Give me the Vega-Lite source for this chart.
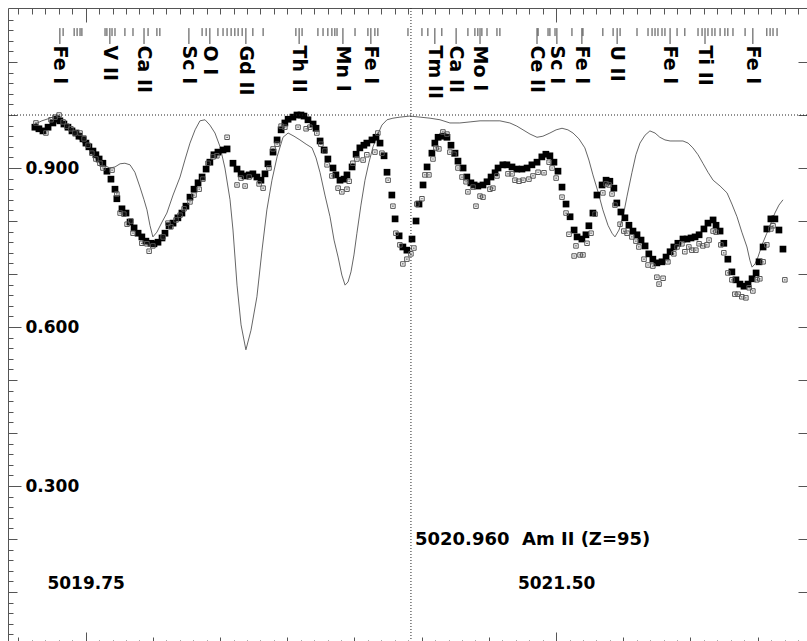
{
"$schema": "https://vega.github.io/schema/vega-lite/v6.json",
"width": 799, "height": 635,
"autosize": {"type": "none"},
"padding": {"left": 8, "top": 8, "right": 0, "bottom": 0},
"background": "white",
"config": {"view": {"stroke": null},
 "axis": {"grid": false, "title": null, "domainColor": "#555", "tickColor": "#555", "domainWidth": 1, "tickWidth": 1,
  "labelFont": "DejaVu Sans", "labelFontWeight": "bold", "labelFontSize": 17, "labelColor": "black",
  "labelOverlap": false, "labelFlush": false, "labelBound": false}},
"datasets": {
"synth": [
{"w":5019.554,"f":0.981},{"w":5019.587,"f":0.989},{"w":5019.617,"f":0.994},{"w":5019.647,"f":1.0},{"w":5019.680,"f":0.977},{"w":5019.710,"f":0.962},{"w":5019.740,"f":0.947},{"w":5019.773,"f":0.928},{"w":5019.803,"f":0.909},{"w":5019.840,"f":0.900},{"w":5019.859,"f":0.902},{"w":5019.878,"f":0.908},{"w":5019.896,"f":0.909},{"w":5019.915,"f":0.906},{"w":5019.933,"f":0.892},{"w":5019.952,"f":0.864},{"w":5019.967,"f":0.840},{"w":5019.978,"f":0.821},{"w":5019.989,"f":0.792},{"w":5020.000,"f":0.770},{"w":5020.015,"f":0.779},{"w":5020.034,"f":0.798},{"w":5020.052,"f":0.815},{"w":5020.075,"f":0.849},{"w":5020.101,"f":0.883},{"w":5020.119,"f":0.915},{"w":5020.138,"f":0.947},{"w":5020.157,"f":0.972},{"w":5020.175,"f":0.989},{"w":5020.194,"f":0.991},{"w":5020.212,"f":0.981},{"w":5020.231,"f":0.966},{"w":5020.250,"f":0.940},{"w":5020.268,"f":0.900},{"w":5020.287,"f":0.840},{"w":5020.298,"f":0.783},{"w":5020.313,"f":0.679},{"w":5020.328,"f":0.604},{"w":5020.346,"f":0.557},{"w":5020.365,"f":0.594},{"w":5020.387,"f":0.657},{"w":5020.406,"f":0.745},{"w":5020.424,"f":0.821},{"w":5020.443,"f":0.877},{"w":5020.462,"f":0.921},{"w":5020.484,"f":0.958},{"w":5020.503,"f":0.966},{"w":5020.525,"f":0.960},{"w":5020.547,"f":0.953},{"w":5020.570,"f":0.945},{"w":5020.592,"f":0.938},{"w":5020.607,"f":0.919},{"w":5020.622,"f":0.891},{"w":5020.640,"f":0.849},{"w":5020.659,"f":0.808},{"w":5020.674,"f":0.764},{"w":5020.689,"f":0.732},{"w":5020.703,"f":0.698},{"w":5020.715,"f":0.679},{"w":5020.726,"f":0.685},{"w":5020.737,"f":0.704},{"w":5020.748,"f":0.736},{"w":5020.759,"f":0.777},{"w":5020.774,"f":0.830},{"w":5020.789,"f":0.877},{"w":5020.804,"f":0.911},{"w":5020.819,"f":0.940},{"w":5020.837,"f":0.964},{"w":5020.852,"f":0.981},{"w":5020.871,"f":0.991},{"w":5020.893,"f":0.994},{"w":5020.919,"f":0.996},{"w":5020.956,"f":0.998},{"w":5020.994,"f":0.996},{"w":5021.031,"f":0.994},{"w":5021.068,"f":0.991},{"w":5021.105,"f":0.985},{"w":5021.142,"f":0.985},{"w":5021.180,"f":0.987},{"w":5021.217,"f":0.989},{"w":5021.254,"f":0.989},{"w":5021.291,"f":0.989},{"w":5021.328,"f":0.985},{"w":5021.354,"f":0.979},{"w":5021.377,"f":0.972},{"w":5021.403,"f":0.964},{"w":5021.429,"f":0.958},{"w":5021.451,"f":0.960},{"w":5021.477,"f":0.966},{"w":5021.500,"f":0.972},{"w":5021.522,"f":0.975},{"w":5021.544,"f":0.972},{"w":5021.563,"f":0.966},{"w":5021.585,"f":0.955},{"w":5021.607,"f":0.938},{"w":5021.622,"f":0.915},{"w":5021.637,"f":0.887},{"w":5021.656,"f":0.855},{"w":5021.674,"f":0.821},{"w":5021.693,"f":0.792},{"w":5021.708,"f":0.777},{"w":5021.719,"f":0.770},{"w":5021.734,"f":0.783},{"w":5021.749,"f":0.808},{"w":5021.764,"f":0.847},{"w":5021.782,"f":0.891},{"w":5021.797,"f":0.925},{"w":5021.812,"f":0.947},{"w":5021.831,"f":0.962},{"w":5021.849,"f":0.970},{"w":5021.868,"f":0.966},{"w":5021.886,"f":0.958},{"w":5021.905,"f":0.953},{"w":5021.924,"f":0.951},{"w":5021.946,"f":0.951},{"w":5021.972,"f":0.951},{"w":5021.991,"f":0.947},{"w":5022.009,"f":0.938},{"w":5022.028,"f":0.925},{"w":5022.046,"f":0.909},{"w":5022.065,"f":0.892},{"w":5022.084,"f":0.877},{"w":5022.110,"f":0.866},{"w":5022.136,"f":0.853},{"w":5022.154,"f":0.832},{"w":5022.173,"f":0.808},{"w":5022.191,"f":0.779},{"w":5022.210,"f":0.751},{"w":5022.221,"f":0.726},{"w":5022.229,"f":0.713},{"w":5022.240,"f":0.719},{"w":5022.251,"f":0.732},{"w":5022.266,"f":0.755},{"w":5022.284,"f":0.777},{"w":5022.299,"f":0.796},{"w":5022.314,"f":0.815},{"w":5022.329,"f":0.830},{"w":5022.344,"f":0.840}
],
"filled": [
{"w":5019.561,"f":0.977},{"w":5019.576,"f":0.974},{"w":5019.591,"f":0.970},{"w":5019.610,"f":0.977},{"w":5019.628,"f":0.985},{"w":5019.643,"f":0.992},{"w":5019.654,"f":0.989},{"w":5019.669,"f":0.983},{"w":5019.684,"f":0.977},{"w":5019.699,"f":0.970},{"w":5019.714,"f":0.966},{"w":5019.725,"f":0.960},{"w":5019.740,"f":0.955},{"w":5019.751,"f":0.947},{"w":5019.762,"f":0.940},{"w":5019.777,"f":0.932},{"w":5019.788,"f":0.925},{"w":5019.800,"f":0.917},{"w":5019.814,"f":0.909},{"w":5019.829,"f":0.894},{"w":5019.844,"f":0.879},{"w":5019.859,"f":0.860},{"w":5019.866,"f":0.842},{"w":5019.885,"f":0.823},{"w":5019.900,"f":0.815},{"w":5019.915,"f":0.798},{"w":5019.930,"f":0.787},{"w":5019.945,"f":0.777},{"w":5019.959,"f":0.770},{"w":5019.974,"f":0.762},{"w":5019.993,"f":0.758},{"w":5020.004,"f":0.757},{"w":5020.019,"f":0.760},{"w":5020.034,"f":0.768},{"w":5020.045,"f":0.777},{"w":5020.060,"f":0.791},{"w":5020.075,"f":0.796},{"w":5020.093,"f":0.806},{"w":5020.108,"f":0.815},{"w":5020.123,"f":0.828},{"w":5020.138,"f":0.845},{"w":5020.153,"f":0.860},{"w":5020.168,"f":0.872},{"w":5020.183,"f":0.883},{"w":5020.198,"f":0.898},{"w":5020.212,"f":0.911},{"w":5020.227,"f":0.925},{"w":5020.242,"f":0.930},{"w":5020.261,"f":0.934},{"w":5020.276,"f":0.936},{"w":5020.298,"f":0.909},{"w":5020.313,"f":0.898},{"w":5020.328,"f":0.889},{"w":5020.343,"f":0.885},{"w":5020.358,"f":0.887},{"w":5020.372,"f":0.889},{"w":5020.387,"f":0.883},{"w":5020.402,"f":0.877},{"w":5020.417,"f":0.889},{"w":5020.428,"f":0.908},{"w":5020.447,"f":0.930},{"w":5020.462,"f":0.953},{"w":5020.477,"f":0.972},{"w":5020.491,"f":0.985},{"w":5020.503,"f":0.992},{"w":5020.521,"f":0.996},{"w":5020.536,"f":1.0},{"w":5020.551,"f":1.0},{"w":5020.562,"f":0.998},{"w":5020.577,"f":0.991},{"w":5020.596,"f":0.983},{"w":5020.607,"f":0.975},{"w":5020.622,"f":0.951},{"w":5020.637,"f":0.934},{"w":5020.651,"f":0.917},{"w":5020.670,"f":0.900},{"w":5020.681,"f":0.887},{"w":5020.696,"f":0.877},{"w":5020.711,"f":0.879},{"w":5020.722,"f":0.887},{"w":5020.741,"f":0.902},{"w":5020.756,"f":0.926},{"w":5020.770,"f":0.938},{"w":5020.785,"f":0.943},{"w":5020.796,"f":0.947},{"w":5020.815,"f":0.953},{"w":5020.830,"f":0.958},{"w":5020.845,"f":0.947},{"w":5020.860,"f":0.923},{"w":5020.871,"f":0.892},{"w":5020.889,"f":0.849},{"w":5020.901,"f":0.804},{"w":5020.916,"f":0.772},{"w":5020.930,"f":0.751},{"w":5020.945,"f":0.745},{"w":5020.964,"f":0.766},{"w":5020.979,"f":0.800},{"w":5020.990,"f":0.832},{"w":5021.005,"f":0.868},{"w":5021.020,"f":0.902},{"w":5021.038,"f":0.928},{"w":5021.049,"f":0.947},{"w":5021.061,"f":0.958},{"w":5021.079,"f":0.960},{"w":5021.094,"f":0.958},{"w":5021.109,"f":0.943},{"w":5021.124,"f":0.928},{"w":5021.135,"f":0.913},{"w":5021.154,"f":0.900},{"w":5021.168,"f":0.883},{"w":5021.183,"f":0.872},{"w":5021.195,"f":0.868},{"w":5021.209,"f":0.866},{"w":5021.228,"f":0.868},{"w":5021.243,"f":0.874},{"w":5021.258,"f":0.883},{"w":5021.273,"f":0.891},{"w":5021.284,"f":0.900},{"w":5021.302,"f":0.906},{"w":5021.317,"f":0.906},{"w":5021.336,"f":0.902},{"w":5021.354,"f":0.898},{"w":5021.373,"f":0.898},{"w":5021.392,"f":0.900},{"w":5021.410,"f":0.906},{"w":5021.429,"f":0.911},{"w":5021.447,"f":0.921},{"w":5021.462,"f":0.926},{"w":5021.477,"f":0.923},{"w":5021.492,"f":0.911},{"w":5021.507,"f":0.894},{"w":5021.522,"f":0.864},{"w":5021.537,"f":0.832},{"w":5021.552,"f":0.808},{"w":5021.567,"f":0.783},{"w":5021.578,"f":0.770},{"w":5021.596,"f":0.766},{"w":5021.611,"f":0.774},{"w":5021.622,"f":0.791},{"w":5021.637,"f":0.815},{"w":5021.652,"f":0.849},{"w":5021.671,"f":0.868},{"w":5021.686,"f":0.877},{"w":5021.700,"f":0.875},{"w":5021.715,"f":0.862},{"w":5021.726,"f":0.834},{"w":5021.741,"f":0.817},{"w":5021.756,"f":0.806},{"w":5021.771,"f":0.792},{"w":5021.786,"f":0.781},{"w":5021.801,"f":0.774},{"w":5021.816,"f":0.764},{"w":5021.831,"f":0.753},{"w":5021.845,"f":0.738},{"w":5021.860,"f":0.728},{"w":5021.875,"f":0.721},{"w":5021.894,"f":0.723},{"w":5021.909,"f":0.732},{"w":5021.924,"f":0.742},{"w":5021.938,"f":0.751},{"w":5021.953,"f":0.758},{"w":5021.972,"f":0.766},{"w":5021.987,"f":0.766},{"w":5022.002,"f":0.768},{"w":5022.017,"f":0.770},{"w":5022.032,"f":0.774},{"w":5022.050,"f":0.785},{"w":5022.065,"f":0.796},{"w":5022.084,"f":0.802},{"w":5022.095,"f":0.792},{"w":5022.110,"f":0.781},{"w":5022.124,"f":0.758},{"w":5022.139,"f":0.728},{"w":5022.154,"f":0.704},{"w":5022.169,"f":0.689},{"w":5022.184,"f":0.681},{"w":5022.199,"f":0.677},{"w":5022.214,"f":0.681},{"w":5022.229,"f":0.691},{"w":5022.244,"f":0.702},{"w":5022.255,"f":0.723},{"w":5022.270,"f":0.751},{"w":5022.284,"f":0.785},{"w":5022.299,"f":0.804},{"w":5022.314,"f":0.804},{"w":5022.329,"f":0.783},{"w":5022.344,"f":0.747}
],
"open": [
{"w":5019.565,"f":0.985},{"w":5019.602,"f":0.966},{"w":5019.621,"f":0.991},{"w":5019.636,"f":0.996},{"w":5019.651,"f":1.0},{"w":5019.666,"f":0.987},{"w":5019.680,"f":0.979},{"w":5019.695,"f":0.974},{"w":5019.710,"f":0.966},{"w":5019.729,"f":0.966},{"w":5019.744,"f":0.955},{"w":5019.759,"f":0.943},{"w":5019.773,"f":0.928},{"w":5019.788,"f":0.917},{"w":5019.803,"f":0.909},{"w":5019.814,"f":0.900},{"w":5019.848,"f":0.896},{"w":5019.866,"f":0.851},{"w":5019.878,"f":0.815},{"w":5019.892,"f":0.813},{"w":5019.904,"f":0.794},{"w":5019.918,"f":0.800},{"w":5019.926,"f":0.777},{"w":5019.959,"f":0.758},{"w":5019.978,"f":0.757},{"w":5019.986,"f":0.743},{"w":5020.000,"f":0.753},{"w":5020.038,"f":0.770},{"w":5020.056,"f":0.796},{"w":5020.067,"f":0.789},{"w":5020.086,"f":0.802},{"w":5020.101,"f":0.811},{"w":5020.116,"f":0.823},{"w":5020.138,"f":0.836},{"w":5020.153,"f":0.849},{"w":5020.172,"f":0.860},{"w":5020.186,"f":0.879},{"w":5020.205,"f":0.909},{"w":5020.224,"f":0.921},{"w":5020.238,"f":0.923},{"w":5020.276,"f":0.958},{"w":5020.313,"f":0.868},{"w":5020.328,"f":0.881},{"w":5020.343,"f":0.866},{"w":5020.358,"f":0.883},{"w":5020.395,"f":0.870},{"w":5020.410,"f":0.862},{"w":5020.432,"f":0.900},{"w":5020.447,"f":0.936},{"w":5020.462,"f":0.945},{"w":5020.477,"f":0.979},{"w":5020.491,"f":0.977},{"w":5020.540,"f":0.977},{"w":5020.570,"f":0.974},{"w":5020.584,"f":0.977},{"w":5020.610,"f":0.966},{"w":5020.625,"f":0.945},{"w":5020.640,"f":0.932},{"w":5020.648,"f":0.906},{"w":5020.666,"f":0.885},{"w":5020.689,"f":0.862},{"w":5020.703,"f":0.855},{"w":5020.722,"f":0.860},{"w":5020.730,"f":0.875},{"w":5020.744,"f":0.909},{"w":5020.759,"f":0.917},{"w":5020.782,"f":0.915},{"w":5020.796,"f":0.925},{"w":5020.826,"f":0.930},{"w":5020.837,"f":0.966},{"w":5020.852,"f":0.928},{"w":5020.875,"f":0.877},{"w":5020.893,"f":0.828},{"w":5020.904,"f":0.777},{"w":5020.919,"f":0.755},{"w":5020.930,"f":0.719},{"w":5020.945,"f":0.728},{"w":5020.960,"f":0.738},{"w":5020.971,"f":0.749},{"w":5020.982,"f":0.832},{"w":5021.001,"f":0.842},{"w":5021.012,"f":0.887},{"w":5021.027,"f":0.887},{"w":5021.042,"f":0.917},{"w":5021.053,"f":0.938},{"w":5021.064,"f":0.936},{"w":5021.079,"f":0.968},{"w":5021.094,"f":0.964},{"w":5021.105,"f":0.930},{"w":5021.120,"f":0.926},{"w":5021.135,"f":0.900},{"w":5021.150,"f":0.883},{"w":5021.165,"f":0.874},{"w":5021.172,"f":0.855},{"w":5021.191,"f":0.864},{"w":5021.202,"f":0.828},{"w":5021.217,"f":0.847},{"w":5021.228,"f":0.845},{"w":5021.254,"f":0.860},{"w":5021.265,"f":0.862},{"w":5021.280,"f":0.885},{"w":5021.321,"f":0.889},{"w":5021.336,"f":0.889},{"w":5021.347,"f":0.877},{"w":5021.362,"f":0.875},{"w":5021.377,"f":0.877},{"w":5021.399,"f":0.879},{"w":5021.414,"f":0.885},{"w":5021.433,"f":0.892},{"w":5021.455,"f":0.891},{"w":5021.474,"f":0.911},{"w":5021.485,"f":0.900},{"w":5021.500,"f":0.881},{"w":5021.522,"f":0.845},{"w":5021.537,"f":0.815},{"w":5021.548,"f":0.775},{"w":5021.567,"f":0.734},{"w":5021.574,"f":0.753},{"w":5021.589,"f":0.736},{"w":5021.600,"f":0.736},{"w":5021.615,"f":0.758},{"w":5021.630,"f":0.777},{"w":5021.645,"f":0.813},{"w":5021.674,"f":0.853},{"w":5021.686,"f":0.870},{"w":5021.697,"f":0.868},{"w":5021.708,"f":0.851},{"w":5021.719,"f":0.830},{"w":5021.738,"f":0.794},{"w":5021.752,"f":0.781},{"w":5021.764,"f":0.777},{"w":5021.782,"f":0.770},{"w":5021.797,"f":0.762},{"w":5021.808,"f":0.751},{"w":5021.827,"f":0.728},{"w":5021.842,"f":0.717},{"w":5021.860,"f":0.715},{"w":5021.875,"f":0.694},{"w":5021.883,"f":0.681},{"w":5021.898,"f":0.692},{"w":5021.916,"f":0.723},{"w":5021.938,"f":0.738},{"w":5021.950,"f":0.751},{"w":5021.968,"f":0.757},{"w":5021.979,"f":0.742},{"w":5021.994,"f":0.751},{"w":5022.005,"f":0.745},{"w":5022.020,"f":0.745},{"w":5022.032,"f":0.757},{"w":5022.046,"f":0.753},{"w":5022.061,"f":0.755},{"w":5022.069,"f":0.764},{"w":5022.084,"f":0.781},{"w":5022.095,"f":0.779},{"w":5022.113,"f":0.755},{"w":5022.124,"f":0.740},{"w":5022.139,"f":0.702},{"w":5022.154,"f":0.689},{"w":5022.165,"f":0.662},{"w":5022.177,"f":0.662},{"w":5022.191,"f":0.657},{"w":5022.206,"f":0.655},{"w":5022.218,"f":0.674},{"w":5022.232,"f":0.668},{"w":5022.247,"f":0.689},{"w":5022.258,"f":0.691},{"w":5022.270,"f":0.723},{"w":5022.284,"f":0.755},{"w":5022.299,"f":0.785},{"w":5022.307,"f":0.791},{"w":5022.351,"f":0.689}
],
"lines": [
{"w":5019.654,"label":"Fe I"},{"w":5019.840,"label":"V II"},{"w":5019.967,"label":"Ca II"},{"w":5020.134,"label":"Sc I"},{"w":5020.212,"label":"O I"},{"w":5020.346,"label":"Gd II"},{"w":5020.544,"label":"Th II"},{"w":5020.707,"label":"Mn I"},{"w":5020.811,"label":"Fe I"},{"w":5021.049,"label":"Tm II"},{"w":5021.128,"label":"Ca II"},{"w":5021.217,"label":"Mo I"},{"w":5021.429,"label":"Ce II"},{"w":5021.503,"label":"Sc I"},{"w":5021.596,"label":"Fe I"},{"w":5021.727,"label":"U II"},{"w":5021.924,"label":"Fe I"},{"w":5022.054,"label":"Ti II"},{"w":5022.232,"label":"Fe I"}
],
"marks": [
{"w":5019.666},{"w":5019.707},{"w":5019.718},{"w":5019.729},{"w":5019.736},{"w":5019.822},{"w":5019.829},{"w":5019.848},{"w":5019.859},{"w":5019.896},{"w":5019.926},{"w":5019.982},{"w":5020.015},{"w":5020.026},{"w":5020.183},{"w":5020.198},{"w":5020.242},{"w":5020.261},{"w":5020.276},{"w":5020.291},{"w":5020.305},{"w":5020.317},{"w":5020.332},{"w":5020.372},{"w":5020.410},{"w":5020.532},{"w":5020.555},{"w":5020.614},{"w":5020.633},{"w":5020.651},{"w":5020.666},{"w":5020.677},{"w":5020.685},{"w":5020.752},{"w":5020.800},{"w":5020.826},{"w":5020.837},{"w":5020.949},{"w":5021.001},{"w":5021.023},{"w":5021.075},{"w":5021.172},{"w":5021.198},{"w":5021.209},{"w":5021.224},{"w":5021.243},{"w":5021.280},{"w":5021.291},{"w":5021.433},{"w":5021.470},{"w":5021.477},{"w":5021.496},{"w":5021.559},{"w":5021.600},{"w":5021.674},{"w":5021.712},{"w":5021.738},{"w":5021.801},{"w":5021.842},{"w":5021.857},{"w":5021.868},{"w":5021.879},{"w":5021.894},{"w":5021.905},{"w":5021.950},{"w":5021.979},{"w":5022.028},{"w":5022.043},{"w":5022.065},{"w":5022.080},{"w":5022.091},{"w":5022.110},{"w":5022.128},{"w":5022.139},{"w":5022.158},{"w":5022.203},{"w":5022.284},{"w":5022.296},{"w":5022.307},{"w":5022.322}
],
"one": [{"note": "annotation"}]
},
"resolve": {"axis": {"x": "independent", "y": "independent"}},
"layer": [
{"data": {"name": "synth"},
 "mark": {"type": "line", "stroke": "#666", "strokeWidth": 1, "clip": true},
 "encoding": {
  "x": {"field": "w", "type": "quantitative", "scale": {"domain": [5019.461, 5022.4334], "nice": false, "zero": false},
   "axis": {"orient": "bottom",
    "values": [5019.5,5019.55,5019.6,5019.65,5019.7,5019.75,5019.8,5019.85,5019.9,5019.95,5020,5020.05,5020.1,5020.15,5020.2,5020.25,5020.3,5020.35,5020.4,5020.45,5020.5,5020.55,5020.6,5020.65,5020.7,5020.75,5020.8,5020.85,5020.9,5020.95,5021,5021.05,5021.1,5021.15,5021.2,5021.25,5021.3,5021.35,5021.4,5021.45,5021.5,5021.55,5021.6,5021.65,5021.7,5021.75,5021.8,5021.85,5021.9,5021.95,5022,5022.05,5022.1,5022.15,5022.2,5022.25,5022.3,5022.35,5022.4],
    "tickSize": {"expr": "(abs(datum.value-5019.75)<0.001 || abs(datum.value-5021.5)<0.001) ? -11 : (abs(datum.value*4-round(datum.value*4))<0.01 ? -6 : -3)"},
    "labelExpr": "abs(datum.value-5019.75)<0.001 ? '5019.75' : (abs(datum.value-5021.5)<0.001 ? '5021.50' : '')",
    "labelPadding": -49, "labelBaseline": "middle", "labelAlign": "center"}},
  "y": {"field": "f", "type": "quantitative", "scale": {"domain": [0.0038, 1.2019], "nice": false, "zero": false},
   "axis": {"orient": "left",
    "values": [0.02,0.04,0.06,0.08,0.1,0.12,0.14,0.16,0.18,0.2,0.22,0.24,0.26,0.28,0.3,0.32,0.34,0.36,0.38,0.4,0.42,0.44,0.46,0.48,0.5,0.52,0.54,0.56,0.58,0.6,0.62,0.64,0.66,0.68,0.7,0.72,0.74,0.76,0.78,0.8,0.82,0.84,0.86,0.88,0.9,0.92,0.94,0.96,0.98,1.0,1.02,1.04,1.06,1.08,1.1,1.12,1.14,1.16,1.18],
    "tickSize": {"expr": "abs(datum.value*10/3-round(datum.value*10/3))<0.01 ? -13 : (abs(datum.value*10-round(datum.value*10))<0.01 ? -9 : -5)"},
    "labelExpr": "abs(datum.value-0.3)<0.001 ? '0.300' : (abs(datum.value-0.6)<0.001 ? '0.600' : (abs(datum.value-0.9)<0.001 ? '0.900' : ''))",
    "labelPadding": -4, "labelAlign": "left", "labelBaseline": "middle"}}
 }},
{"data": {"name": "filled"},
 "mark": {"type": "square", "size": 45, "color": "black", "opacity": 1},
 "encoding": {
  "x": {"field": "w", "type": "quantitative",
   "axis": {"orient": "top", "labels": false,
    "values": [5019.5,5019.55,5019.6,5019.65,5019.7,5019.75,5019.8,5019.85,5019.9,5019.95,5020,5020.05,5020.1,5020.15,5020.2,5020.25,5020.3,5020.35,5020.4,5020.45,5020.5,5020.55,5020.6,5020.65,5020.7,5020.75,5020.8,5020.85,5020.9,5020.95,5021,5021.05,5021.1,5021.15,5021.2,5021.25,5021.3,5021.35,5021.4,5021.45,5021.5,5021.55,5021.6,5021.65,5021.7,5021.75,5021.8,5021.85,5021.9,5021.95,5022,5022.05,5022.1,5022.15,5022.2,5022.25,5022.3,5022.35,5022.4],
    "tickSize": {"expr": "(abs(datum.value-5019.75)<0.001 || abs(datum.value-5021.5)<0.001) ? -14 : -6"}}},
  "y": {"field": "f", "type": "quantitative",
   "axis": {"orient": "right", "labels": false, "values": [0.1,0.2,0.3,0.4,0.5,0.6,0.7,0.8,0.9,1.0,1.1], "tickSize": -9}}
 }},
{"data": {"name": "open"},
 "mark": {"type": "square", "size": 20, "filled": false, "stroke": "#555", "strokeWidth": 1, "opacity": 1},
 "encoding": {"x": {"field": "w", "type": "quantitative", "axis": null}, "y": {"field": "f", "type": "quantitative", "axis": null}}},
{"data": {"name": "open"},
 "mark": {"type": "square", "size": 1.5, "color": "#333", "opacity": 1},
 "encoding": {"x": {"field": "w", "type": "quantitative", "axis": null}, "y": {"field": "f", "type": "quantitative", "axis": null}}},
{"data": {"name": "one"},
 "mark": {"type": "rule", "stroke": "#222", "strokeWidth": 1, "strokeDash": [1, 2]},
 "encoding": {"y": {"datum": 1.0, "type": "quantitative", "axis": null}}},
{"data": {"name": "one"},
 "mark": {"type": "rule", "stroke": "#222", "strokeWidth": 1, "strokeDash": [1, 2]},
 "encoding": {"x": {"datum": 5020.96, "type": "quantitative", "axis": null}}},
{"data": {"name": "marks"},
 "mark": {"type": "rule", "stroke": "#444", "strokeWidth": 1},
 "encoding": {"x": {"field": "w", "type": "quantitative", "axis": null},
  "y": {"datum": 1.164, "type": "quantitative", "axis": null}, "y2": {"datum": 1.149}}},
{"data": {"name": "lines"},
 "mark": {"type": "rule", "stroke": "#444", "strokeWidth": 1},
 "encoding": {"x": {"field": "w", "type": "quantitative", "axis": null},
  "y": {"datum": 1.164, "type": "quantitative", "axis": null}, "y2": {"datum": 1.134}}},
{"data": {"name": "lines"},
 "mark": {"type": "text", "angle": 90, "align": "left", "baseline": "middle", "font": "DejaVu Sans", "fontWeight": "bold", "fontSize": 19, "color": "black"},
 "encoding": {"x": {"field": "w", "type": "quantitative", "axis": null},
  "y": {"datum": 1.131, "type": "quantitative", "axis": null}, "text": {"field": "label"}}},
{"data": {"name": "one"},
 "mark": {"type": "text", "text": "5020.960\u00a0\u00a0Am II (Z=95)", "align": "left", "baseline": "middle", "font": "DejaVu Sans", "fontWeight": "bold", "fontSize": 18, "color": "black"},
 "encoding": {"x": {"datum": 5020.975, "type": "quantitative", "axis": null}, "y": {"datum": 0.198, "type": "quantitative", "axis": null}}}
]
}
